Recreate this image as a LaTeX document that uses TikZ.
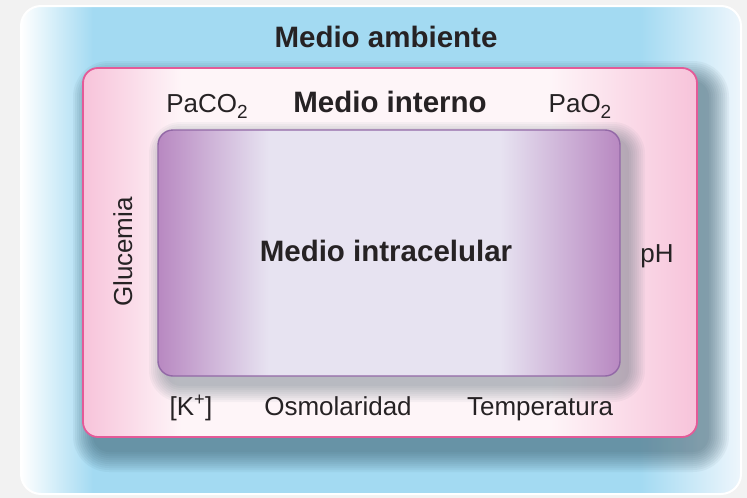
\documentclass[tikz,border=0pt]{standalone}
\usepackage{fontspec}
\setmainfont{Liberation Sans}
\usepackage{xcolor}
\usepackage{tikz}
\usetikzlibrary{positioning}

\definecolor{fondo}{HTML}{F2F2F2}
\definecolor{cielo}{HTML}{A3DAF2}
\definecolor{cielopalido}{HTML}{EEF6FC}
\definecolor{rosa}{HTML}{F7C3DA}
\definecolor{rosaclaro}{HTML}{FEF5F8}
\definecolor{rosaborde}{HTML}{E45A98}
\definecolor{lila}{HTML}{B888C1}
\definecolor{lilaclaro}{HTML}{E7E3F1}
\definecolor{lilaborde}{HTML}{9268A6}
\definecolor{sombra}{HTML}{23404E}
\definecolor{texto}{HTML}{262224}

% sombreados horizontales con meseta central
\pgfdeclarehorizontalshading{cielofondo}{100bp}{color(0bp)=(white); color(25bp)=(white);
    color(30bp)=(cielo); color(68bp)=(cielo); color(75bp)=(cielopalido); color(100bp)=(cielopalido)}
\pgfdeclarehorizontalshading{rosafondo}{100bp}{color(0bp)=(rosa); color(25bp)=(rosa);
    color(33bp)=(rosaclaro); color(63bp)=(rosaclaro); color(75bp)=(rosa); color(100bp)=(rosa)}
\pgfdeclarehorizontalshading{lilafondo}{100bp}{color(0bp)=(lila); color(25bp)=(lila);
    color(37bp)=(lilaclaro); color(62bp)=(lilaclaro); color(75bp)=(lila); color(100bp)=(lila)}

\newcommand{\subdos}{\raisebox{-0.45ex}{\fontsize{19}{20}\selectfont 2}}

\begin{document}
\begin{tikzpicture}[
    x=1pt, y=-1pt,
    label/.style={font=\fontsize{26}{30}\selectfont, text=texto, inner sep=0pt, anchor=base},
    title/.style={font=\fontsize{29.5}{34}\selectfont\bfseries, text=texto, inner sep=0pt, anchor=base},
    panel/.style={rectangle, rounded corners=20pt, draw=white, line width=2pt, shading=cielofondo},
    interno/.style={rectangle, rounded corners=15pt, draw=rosaborde, line width=1.8pt, shading=rosafondo},
    celula/.style={rectangle, rounded corners=15pt, draw=lilaborde, line width=1.4pt, shading=lilafondo},
    capa/.style={fill=sombra, opacity=0.045}
]
    % Fondo y panel exterior
    \fill[fondo] (0,0) rectangle (747,498);
    \useasboundingbox (0,0) rectangle (747,498);
    \node[panel, minimum width=720pt, minimum height=488pt] (ambiente) at (381,250) {};

    % Medio interno con su sombra
    \path (390,252.5) coordinate (cinterno);
    \foreach \d in {1,3,...,21}
        \fill[capa, opacity=0.05, rounded corners={(15+\d)*1pt}]
            ([shift={(11-\d,14-\d)}]cinterno) ++(-307,-184.5) rectangle ++(614+2*\d,369+2*\d);
    \node[interno, minimum width=614pt, minimum height=369pt] (interno) at (cinterno) {};

    % Medio intracelular con su sombra
    \path (389,253) coordinate (cintra);
    \foreach \d in {1,3,...,17}
        \fill[capa, opacity=0.04, rounded corners={(15+\d)*1pt}]
            ([shift={(8-\d,9-\d)}]cintra) ++(-231,-123) rectangle ++(462+2*\d,246+2*\d);
    \node[celula, minimum width=462pt, minimum height=246pt] (intracel) at (cintra) {};

    % Titulos
    \node[title] (tambiente) at (386,47) {Medio ambiente};
    \node[title] (tinterno) at (390,112) {Medio interno};
    \node[title] (tintracel) at (386,261) {Medio intracelular};

    % Variables del medio interno
    \node[label] (paco) at (207,112) {PaCO\subdos};
    \node[label] (pao) at (580,112) {PaO\subdos};
    \node[label] (ph) at (657,262) {pH};
    \node[label, rotate=90] (gluc) at (132,252) {Glucemia};
    \node[label] (potasio) at (191,415) {[K\textsuperscript{+}]};
    \node[label] (osmol) at (338,415) {Osmolaridad};
    \node[label] (temp) at (540,415) {Temperatura};
\end{tikzpicture}
\end{document}
